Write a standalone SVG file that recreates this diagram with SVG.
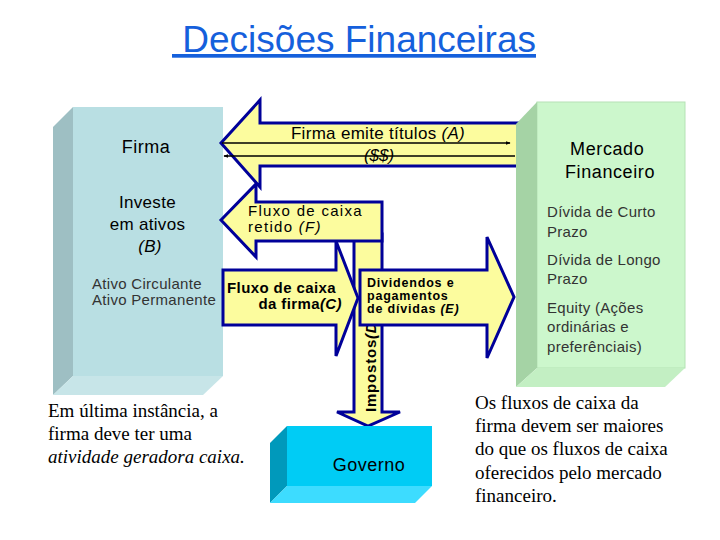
<svg xmlns="http://www.w3.org/2000/svg" width="720" height="540" viewBox="0 0 720 540">
<defs>
<style>
.sans{font-family:"Liberation Sans",Arial,sans-serif}
.serif{font-family:"Liberation Serif","Times New Roman",serif;font-size:19px;fill:#000}
.arrow{fill:#fcfc9e;stroke:#000099;stroke-width:3;stroke-linejoin:miter}
.thin{stroke:#000;stroke-width:1.6;fill:none}
.lbl{font-family:"Liberation Sans",Arial,sans-serif;fill:#000}
.grey{font-family:"Liberation Sans",Arial,sans-serif;font-size:15px;fill:#333;letter-spacing:0.3px}
</style>
<marker id="ah" viewBox="0 0 8 6" refX="7" refY="3" markerWidth="5" markerHeight="4" orient="auto-start-reverse" markerUnits="userSpaceOnUse">
<path d="M0,0 L8,3 L0,6 z" fill="#000"/>
</marker>
</defs>
<rect width="720" height="540" fill="#fff"/>

<text x="172" y="52" class="sans" font-size="37" fill="#1560dc" text-decoration="underline" xml:space="preserve"> Decisões Financeiras</text>

<g id="firma">
<rect x="73" y="107" width="150" height="269" fill="#b9dfe3"/>
<polygon points="53,127 73,107 73,376 53,395" fill="#9ebfc3"/>
<polygon points="53,395 73,376 223,376 203,395" fill="#c7e5e8"/>
<text x="146" y="153" class="lbl" font-size="18" text-anchor="middle" letter-spacing="0.5">Firma</text>
<text class="lbl" font-size="17" text-anchor="middle" letter-spacing="0.3">
<tspan x="150" y="208">Investe</tspan>
<tspan x="150" y="230">em ativos</tspan>
<tspan x="150" y="252" font-style="italic">(B)</tspan>
</text>
<text class="grey" x="92" y="289">Ativo Circulante</text>
<text class="grey" x="92" y="305">Ativo Permanente</text>
</g>

<g id="connectors">
<g id="arrow-D">
<polygon class="arrow" points="354,234 382,234 382,412 400,412 368,426 337,412 354,412"/>
<text class="lbl" transform="translate(376,412) rotate(-90)" font-size="15" font-weight="bold" letter-spacing="0.8">Impostos<tspan font-style="italic">(D)</tspan></text>
</g>
<g id="arrow-F">
<polygon class="arrow" points="221,220 256,184 256,202 382,202 382,241 256,241 256,257"/>
<text class="lbl" font-size="15" letter-spacing="1.3">
<tspan x="248" y="216">Fluxo de caixa</tspan>
<tspan x="248" y="232">retido <tspan font-style="italic">(F)</tspan></tspan>
</text>
</g>
<g id="arrow-A">
<polygon class="arrow" points="221,143 260,100 260,123 525,123 525,166 260,166 260,187"/>
<line class="thin" x1="222" y1="143" x2="510" y2="143" marker-end="url(#ah)"/>
<line class="thin" x1="224" y1="156" x2="515" y2="156" marker-start="url(#ah)"/>
<text class="lbl" x="378" y="139" font-size="17" text-anchor="middle" letter-spacing="0.3">Firma emite títulos <tspan font-style="italic">(A)</tspan></text>
<text class="lbl" x="379" y="161" font-size="17" text-anchor="middle" font-style="italic">($$)</text>
</g>
<g id="arrow-E">
<polygon class="arrow" points="360,270 487,270 487,237 514,297 487,358 487,325 360,325"/>
<text class="lbl" font-size="12.5" font-weight="bold" letter-spacing="0.8">
<tspan x="367" y="287">Dividendos e</tspan>
<tspan x="367" y="300">pagamentos</tspan>
<tspan x="367" y="313">de dívidas <tspan font-style="italic">(E)</tspan></tspan>
</text>
</g>
<g id="arrow-C">
<polygon class="arrow" points="223,270 336,270 336,241 358,298 336,356 336,325 223,325"/>
<text class="lbl" font-size="15" font-weight="bold" letter-spacing="0.4">
<tspan x="227" y="293">Fluxo de caixa</tspan>
<tspan x="342" y="309" text-anchor="end">da firma<tspan font-style="italic">(C)</tspan></tspan>
</text>
</g>
</g>

<g id="mercado">
<rect x="537" y="102" width="148" height="266" fill="#ccf7cc" stroke="#b5e2b5" stroke-width="1"/>
<polygon points="516,124 537,102 537,368 516,387" fill="#a5d3a5"/>
<polygon points="516,387 537,368 685,368 665,387" fill="#c3efc3"/>
<text class="lbl" font-size="18" text-anchor="middle" letter-spacing="0.6">
<tspan x="610" y="155">Mercado</tspan>
<tspan x="610" y="178">Financeiro</tspan>
</text>
<text class="grey"><tspan x="547" y="217">Dívida de Curto</tspan><tspan x="547" y="237">Prazo</tspan></text>
<text class="grey"><tspan x="547" y="265">Dívida de Longo</tspan><tspan x="547" y="284">Prazo</tspan></text>
<text class="grey"><tspan x="547" y="313">Equity (Ações</tspan><tspan x="547" y="332">ordinárias e</tspan><tspan x="547" y="352">preferênciais)</tspan></text>
</g>

<g id="governo">
<rect x="287" y="426" width="145" height="60" fill="#00ccf5"/>
<polygon points="270,443 287,426 287,486 270,503" fill="#0099bb"/>
<polygon points="270,503 287,486 432,486 415,503" fill="#3ddcff"/>
<text class="lbl" x="369" y="471" font-size="18" text-anchor="middle" fill="#14143c" letter-spacing="0.5">Governo</text>
</g>

<g id="note-left">
<text class="serif"><tspan x="48" y="417">Em última instância, a</tspan><tspan x="48" y="440">firma deve ter uma</tspan><tspan x="48" y="463" font-style="italic">atividade geradora caixa.</tspan></text>
</g>
<g id="note-right">
<text class="serif" font-size="19.5"><tspan x="475" y="409">Os fluxos de caixa da</tspan><tspan x="475" y="432">firma devem ser maiores</tspan><tspan x="475" y="455">do que os fluxos de caixa</tspan><tspan x="475" y="479">oferecidos pelo mercado</tspan><tspan x="475" y="502">financeiro.</tspan></text>
</g>
</svg>
